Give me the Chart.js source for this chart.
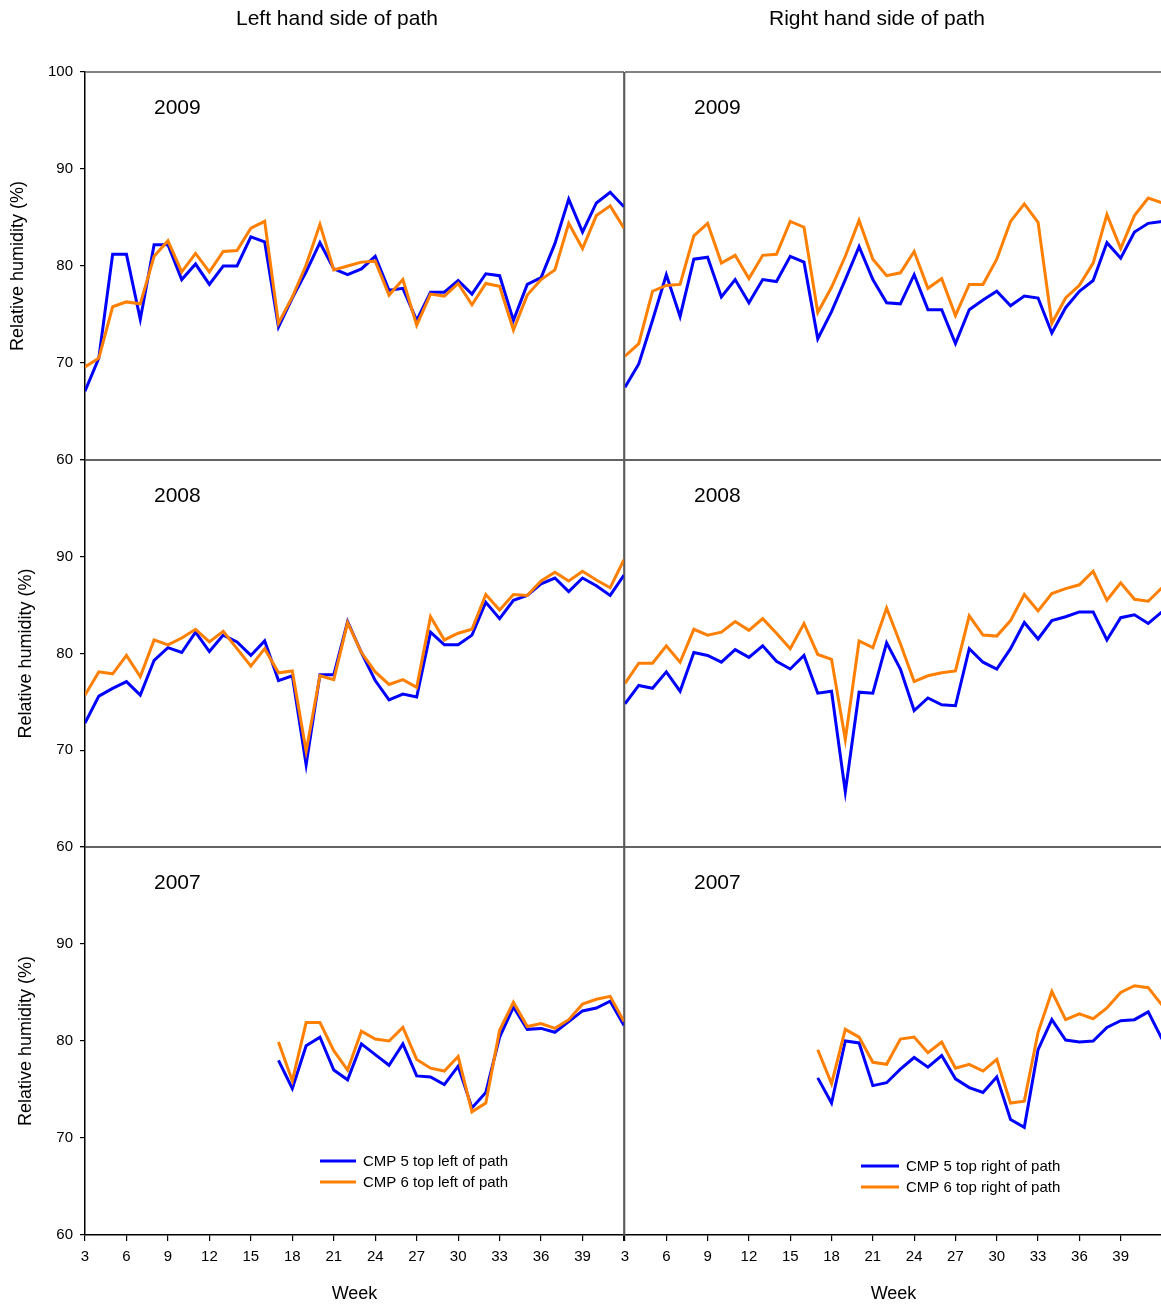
<!DOCTYPE html>
<html>
<head>
<meta charset="utf-8">
<script src="https://cdn.jsdelivr.net/npm/chart.js@4/dist/chart.umd.min.js"></script>
<style>
  html, body { margin: 0; padding: 0; background: #fff; overflow: hidden; }
  #wrap { position: relative; width: 1161px; height: 1305px; overflow: hidden; background: #fff; }
  #wrap canvas { position: absolute; left: 0; top: 0; }
</style>
</head>
<body>
<div id="wrap"></div>
<script>
// Weekly mean relative humidity (%) at two monitoring points on each side of the path.
const weeks = [3,4,5,6,7,8,9,10,11,12,13,14,15,16,17,18,19,20,21,22,
               23,24,25,26,27,28,29,30,31,32,33,34,35,36,37,38,39,40,41,42];
const weeks2007 = [17,18,19,20,21,22,
                   23,24,25,26,27,28,29,30,31,32,33,34,35,36,37,38,39,40,41,42];

const left2009_cmp5 = [67.1,70.5,81.2,81.2,74.5,82.2,82.2,78.6,80.2,78.1,80.0,80.0,83.0,82.5,73.7,76.7,79.4,82.4,79.7,79.1,
                       79.7,81.0,77.5,77.7,74.4,77.3,77.3,78.5,77.1,79.2,79.0,74.4,78.1,78.8,82.3,86.9,83.5,86.5,87.6,86.1];
const left2009_cmp6 = [69.6,70.5,75.8,76.3,76.1,81.0,82.6,79.4,81.3,79.4,81.5,81.6,83.9,84.6,74.1,76.8,80.1,84.3,79.6,80.0,
                       80.4,80.5,77.0,78.6,73.9,77.1,76.9,78.2,76.0,78.2,77.9,73.4,77.0,78.6,79.6,84.4,81.8,85.2,86.2,83.9];
const right2009_cmp5 = [67.5,69.9,74.4,79.1,74.8,80.7,80.9,76.8,78.6,76.2,78.6,78.4,81.0,80.4,72.5,75.3,78.6,82.0,78.6,76.2,
                        76.1,79.1,75.5,75.5,72.0,75.5,76.5,77.4,75.9,76.9,76.7,73.1,75.7,77.4,78.5,82.4,80.8,83.5,84.4,84.6];
const right2009_cmp6 = [70.7,72.0,77.4,78.0,78.1,83.1,84.4,80.3,81.1,78.7,81.1,81.2,84.6,84.0,75.2,77.8,81.0,84.7,80.7,79.0,
                        79.3,81.5,77.7,78.7,74.9,78.1,78.1,80.7,84.6,86.4,84.5,74.1,76.7,78.0,80.3,85.3,81.8,85.2,87.0,86.5];

const left2008_cmp5 = [72.8,75.6,76.4,77.1,75.7,79.3,80.6,80.1,82.2,80.2,81.9,81.2,79.8,81.3,77.2,77.7,68.5,77.8,77.8,83.3,
                       80.1,77.2,75.2,75.8,75.5,82.2,80.9,80.9,81.9,85.3,83.6,85.5,86.0,87.2,87.8,86.4,87.8,87.0,86.0,88.1];
const left2008_cmp6 = [75.7,78.1,77.9,79.8,77.6,81.4,80.9,81.6,82.5,81.2,82.3,80.5,78.7,80.5,78.0,78.2,69.9,77.7,77.3,83.2,
                       80.1,78.1,76.8,77.3,76.5,83.8,81.4,82.1,82.5,86.1,84.5,86.1,86.0,87.5,88.4,87.5,88.5,87.6,86.8,89.7];
const right2008_cmp5 = [74.8,76.7,76.4,78.1,76.1,80.1,79.8,79.1,80.4,79.6,80.8,79.2,78.4,79.8,75.9,76.1,65.7,76.0,75.9,81.1,
                        78.4,74.1,75.4,74.7,74.6,80.5,79.1,78.4,80.5,83.2,81.5,83.4,83.8,84.3,84.3,81.4,83.7,84.0,83.1,84.3];
const right2008_cmp6 = [76.9,79.0,79.0,80.8,79.1,82.5,81.9,82.2,83.3,82.4,83.6,82.1,80.5,83.1,79.9,79.4,71.1,81.3,80.6,84.7,
                        81.0,77.1,77.7,78.0,78.2,83.9,81.9,81.8,83.4,86.1,84.4,86.2,86.7,87.1,88.5,85.5,87.3,85.6,85.4,86.8];

const left2007_cmp5 = [78.0,75.1,79.5,80.4,77.0,76.0,
                       79.7,78.6,77.5,79.7,76.4,76.3,75.5,77.4,73.1,74.7,80.4,83.5,81.2,81.3,80.9,82.0,83.1,83.4,84.1,81.6];
const left2007_cmp6 = [79.9,75.9,81.9,81.9,79.0,77.0,
                       81.0,80.2,80.0,81.4,78.1,77.2,76.9,78.4,72.7,73.6,81.1,84.0,81.5,81.8,81.3,82.2,83.8,84.3,84.6,82.0];
const right2007_cmp5 = [76.2,73.6,80.0,79.8,75.4,75.7,
                        77.1,78.3,77.3,78.5,76.1,75.2,74.7,76.3,71.9,71.1,79.1,82.2,80.1,79.9,80.0,81.4,82.1,82.2,83.0,80.2];
const right2007_cmp6 = [79.1,75.6,81.2,80.4,77.8,77.6,
                        80.2,80.4,78.8,79.9,77.2,77.6,76.9,78.1,73.6,73.8,80.9,85.1,82.2,82.8,82.3,83.4,85.0,85.7,85.5,83.7];

const columnTitles = ['Left hand side of path', 'Right hand side of path'];
const seriesNames = {
  left:  ['CMP 5 top left of path',  'CMP 6 top left of path'],
  right: ['CMP 5 top right of path', 'CMP 6 top right of path']
};
const yTitle = 'Relative humidity (%)';
const xTitle = 'Week';

const FONT = '"Liberation Sans", Arial, Helvetica, sans-serif';
const BLUE = '#0000ff';
const ORANGE = '#ff7f00';
const H = 1305;
const rowTop = [72, 460, 847];
const rowBottom = [460, 847, 1235];

// Frame, year label, column heading and in-plot legend
const panelDecor = {
  id: 'panelDecor',
  beforeDatasetsDraw(chart, args, opts) {
    const {ctx, chartArea: a} = chart;
    ctx.save();
    ctx.strokeStyle = '#5a5a5a';
    ctx.lineWidth = 1.6;
    ctx.beginPath();
    ctx.moveTo(a.left, a.top); ctx.lineTo(a.right, a.top);
    ctx.moveTo(a.right, a.top); ctx.lineTo(a.right, a.bottom);
    if (!opts.bottomAxis) { ctx.moveTo(a.left, a.bottom); ctx.lineTo(a.right, a.bottom); }
    if (!opts.leftAxis) { ctx.moveTo(a.left - 0.5, a.top); ctx.lineTo(a.left - 0.5, a.bottom); }
    ctx.stroke();
    ctx.restore();
  },
  afterDraw(chart, args, opts) {
    const {ctx, chartArea: a} = chart;
    ctx.save();
    ctx.fillStyle = '#000';
    ctx.font = '21px ' + FONT;
    ctx.textBaseline = 'middle';
    ctx.textAlign = 'left';
    ctx.fillText(opts.year, a.left + 69, a.top + 36);
    if (opts.heading) {
      ctx.textAlign = 'center';
      ctx.fillText(opts.heading, a.left + 252, 19);
    }
    if (opts.legend) {
      const L = opts.legend;
      ctx.font = '15px ' + FONT;
      ctx.textAlign = 'left';
      chart.data.datasets.forEach((ds, i) => {
        const y = L.y + i * 21;
        ctx.strokeStyle = ds.borderColor;
        ctx.lineWidth = 3;
        ctx.beginPath();
        ctx.moveTo(L.x, y); ctx.lineTo(L.x + L.len, y);
        ctx.stroke();
        ctx.fillStyle = '#000';
        ctx.fillText(ds.label, L.x + L.len + 7, y + 1);
      });
    }
    ctx.restore();
  }
};

function makePanel(side, row, year, xs, s5, s6, legend) {
  const isLeft = side === 'left';
  const showX = row === 2;
  const cw = isLeft ? 640 : 1170;
  const canvas = document.createElement('canvas');
  canvas.width = cw;
  canvas.height = H;
  canvas.style.width = cw + 'px';
  canvas.style.height = H + 'px';
  document.getElementById('wrap').appendChild(canvas);

  const names = seriesNames[side];
  const toPts = vals => xs.map((w, i) => ({x: w, y: vals[i]}));

  new Chart(canvas.getContext('2d'), {
    type: 'line',
    data: {
      datasets: [
        {label: names[0], data: toPts(s5), borderColor: BLUE, backgroundColor: BLUE,
         borderWidth: 3, pointRadius: 0, tension: 0, fill: false, order: 2},
        {label: names[1], data: toPts(s6), borderColor: ORANGE, backgroundColor: ORANGE,
         borderWidth: 3, pointRadius: 0, tension: 0, fill: false, order: 1}
      ]
    },
    options: {
      responsive: false,
      animation: false,
      events: [],
      layout: {
        padding: {
          left: isLeft ? 0 : 625,
          right: isLeft ? 16 : 8,
          top: rowTop[row],
          bottom: showX ? 0 : H - rowBottom[row]
        }
      },
      scales: {
        x: {
          type: 'linear',
          min: 3, max: 42,
          display: showX,
          afterFit: s => { s.height = showX ? H - rowBottom[2] : 0; },
          border: {display: true, color: '#000', width: 1.5},
          grid: {display: true, drawOnChartArea: false, drawTicks: true, tickLength: 6, color: '#000', lineWidth: 1.2},
          ticks: {
            stepSize: 3,
            autoSkip: false,
            maxRotation: 0,
            padding: 7,
            color: '#000',
            font: {family: FONT, size: 15},
            callback: v => (v === 42 ? '' : String(v))
          },
          title: {display: true, text: xTitle, color: '#000', font: {family: FONT, size: 18}, padding: {top: 0, bottom: 0}}
        },
        y: {
          min: 60, max: 100,
          display: isLeft,
          afterFit: s => { s.width = isLeft ? 85 : 0; },
          border: {display: true, color: '#000', width: 1.5},
          grid: {display: true, drawOnChartArea: false, drawTicks: true, tickLength: 5, color: '#000', lineWidth: 1.2},
          ticks: {
            stepSize: 10,
            padding: 7,
            color: '#000',
            font: {family: FONT, size: 15},
            callback: v => (row > 0 && v === 100 ? '' : String(v))
          },
          title: {display: true, text: yTitle, color: '#000', font: {family: FONT, size: 18},
                  padding: {top: row === 0 ? 7 : 15, bottom: 0}}
        }
      },
      plugins: {
        legend: {display: false},
        tooltip: {enabled: false},
        panelDecor: {
          year: year,
          heading: row === 0 ? columnTitles[isLeft ? 0 : 1] : null,
          leftAxis: isLeft,
          bottomAxis: showX,
          legend: legend
        }
      }
    },
    plugins: [panelDecor]
  });
}

makePanel('left', 0, '2009', weeks, left2009_cmp5, left2009_cmp6, null);
makePanel('left', 1, '2008', weeks, left2008_cmp5, left2008_cmp6, null);
makePanel('left', 2, '2007', weeks2007, left2007_cmp5, left2007_cmp6, {x: 320, y: 1161, len: 36});
makePanel('right', 0, '2009', weeks, right2009_cmp5, right2009_cmp6, null);
makePanel('right', 1, '2008', weeks, right2008_cmp5, right2008_cmp6, null);
makePanel('right', 2, '2007', weeks2007, right2007_cmp5, right2007_cmp6, {x: 861, y: 1166, len: 38});
</script>
</body>
</html>
